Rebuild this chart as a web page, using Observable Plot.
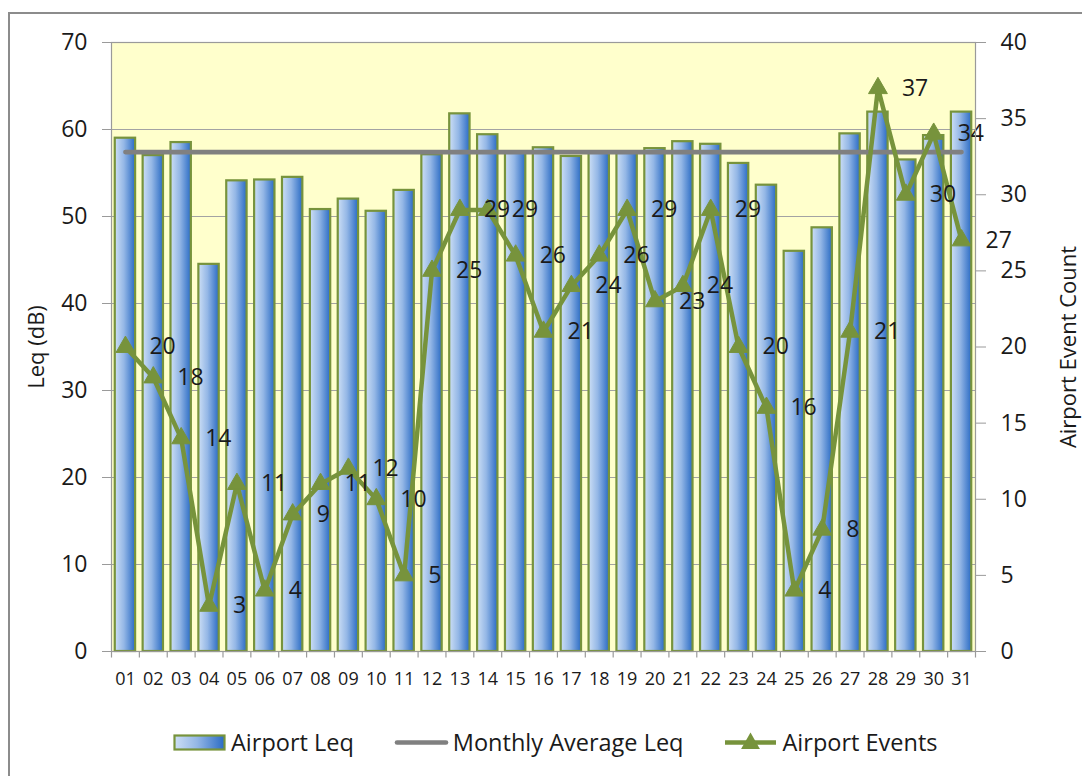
<!DOCTYPE html>
<html><head><meta charset="utf-8">
<script src="https://cdn.jsdelivr.net/npm/d3@7"></script>
<script src="https://cdn.jsdelivr.net/npm/@observablehq/plot@0.6"></script>
<style>
body{margin:0;background:#fff;font-family:"Open Sans",sans-serif;}
#wrap{position:relative;width:1082px;height:776px;overflow:hidden;background:#fff;}
#frame{position:absolute;left:8px;top:12px;width:1200px;height:900px;border:2px solid #8c8c8c;box-sizing:border-box;}
#chart{position:absolute;left:0;top:0;}
#legend{position:absolute;top:728px;left:173px;display:flex;justify-content:flex-start;align-items:center;gap:41px;font-size:23.5px;color:#1a1a1a;line-height:28px;white-space:nowrap;}
.item{display:flex;align-items:center;gap:5px;}
.item svg{display:block;}
</style></head>
<body><div id="wrap"><div id="frame"></div><div id="chart"></div><div id="legend"></div></div>
<script>
// ---- data ----
const days = ["01","02","03","04","05","06","07","08","09","10","11","12","13","14","15","16","17","18","19","20","21","22","23","24","25","26","27","28","29","30","31"];
const airportLeq = [59.0,57.0,58.5,44.5,54.1,54.2,54.5,50.8,52.0,50.6,53.0,57.1,61.8,59.4,57.4,57.9,56.9,57.4,57.4,57.8,58.6,58.3,56.1,53.6,46.0,48.7,59.5,62.0,56.5,59.3,62.0];
const airportEvents = [20,18,14,3,11,4,9,11,12,10,5,25,29,29,26,21,24,26,29,23,24,29,20,16,4,8,21,37,30,34,27];
const monthlyAverageLeq = 57.4;
const leftTicks = [0,10,20,30,40,50,60,70];
const rightTicks = [0,5,10,15,20,25,30,35,40];
const seriesNames = ["Airport Leq","Monthly Average Leq","Airport Events"];
const axisTitles = {left:"Leq (dB)", right:"Airport Event Count"};

// ---- layout / style ----
const W = 1082, H = 700, mL = 111, mR = 107, mT = 42, mB = 49;
const k = leftTicks[leftTicks.length-1] / rightTicks[rightTicks.length-1];
const step = (W - mL - mR) / days.length;
const green = "#77933C";
const txt = "#1a1a1a";
const axisGray = "#9a9a9a";

const data = days.map((d,i)=>({day:d, leq:airportLeq[i], events:airportEvents[i], avg:monthlyAverageLeq}));

const chart = Plot.plot({
  width: W, height: H, marginLeft: mL, marginRight: mR, marginTop: mT, marginBottom: mB,
  style: {fontFamily:"'Open Sans', sans-serif", fontSize:"23px", color: txt, background:"transparent", overflow:"visible"},
  x: {type:"band", domain: days, paddingInner: 0.27, paddingOuter: 0.135, round: false},
  y: {domain:[0,70]},
  marks: [
    Plot.frame({fill:"#ffffcc", stroke:null}),
    Plot.ruleY(leftTicks.slice(1,-1), {stroke:"#a3a3a3", strokeWidth:1.2}),
    Plot.barY(data, {x:"day", y:"leq", fill:"url(#barGrad)", stroke:green, strokeWidth:2.2}),
    Plot.lineY(data, {x:"day", y:"avg", stroke:"#808080", strokeWidth:4.6, strokeLinecap:"round"}),
    Plot.lineY(data, {x:"day", y:d=>d.events*k, stroke:green, strokeWidth:4.5, strokeLinejoin:"round"}),
    Plot.dot(data, {x:"day", y:d=>d.events*k, symbol:"triangle", r:7, fill:green, stroke:green, strokeWidth:1}),
    Plot.text(data, {x:"day", y:d=>d.events*k, text:d=>String(d.events), dx:24, textAnchor:"start", fontSize:23, fill:txt}),
    Plot.frame({stroke:axisGray, strokeWidth:1.2}),
    Plot.ruleX(days, {x:d=>d, y1:0, y2:-0.75, dx:-step/2, stroke:axisGray, strokeWidth:1.2}),
    Plot.ruleX(days.slice(-1), {x:d=>d, y1:0, y2:-0.75, dx:step/2, stroke:axisGray, strokeWidth:1.2}),
    Plot.axisY(leftTicks, {anchor:"left", tickSize:9, tickPadding:15, fontSize:23, stroke:axisGray, fill:txt, label:null}),
    Plot.axisY(rightTicks.map(v=>v*k), {anchor:"right", tickSize:10, tickPadding:15, fontSize:23, stroke:axisGray, fill:txt, tickFormat:v=>String(Math.round(v/k)), label:null}),
    Plot.axisX(days, {tickSize:0, tickPadding:21, fontSize:18, fill:txt, label:null}),
    Plot.text([axisTitles.left], {frameAnchor:"left", dx:-75, rotate:-90, fontSize:22, fill:txt, textAnchor:"middle"}),
    Plot.text([axisTitles.right], {frameAnchor:"right", dx:93, rotate:-90, fontSize:22, fill:txt, textAnchor:"middle"})
  ]
});

const gradDefs = `<linearGradient id="barGrad" x1="0" y1="0" x2="1" y2="0">
  <stop offset="0" stop-color="#cddff5"/>
  <stop offset="0.45" stop-color="#94b7e6"/>
  <stop offset="1" stop-color="#2a6bc4"/>
</linearGradient>`;
d3.select(chart).insert("defs", ":first-child").html(gradDefs);
document.getElementById("chart").appendChild(chart);

// ---- legend ----
const legend = d3.select("#legend");
const swatches = [
  svg => { svg.append("rect").attr("x",1.5).attr("y",1.5).attr("width",50).attr("height",14).attr("fill","url(#barGrad)").attr("stroke",green).attr("stroke-width",2.2); },
  svg => { svg.append("line").attr("x1",2).attr("x2",51).attr("y1",8.5).attr("y2",8.5).attr("stroke","#808080").attr("stroke-width",4.6).attr("stroke-linecap","round"); },
  svg => { svg.append("line").attr("x1",1).attr("x2",52).attr("y1",8.5).attr("y2",8.5).attr("stroke",green).attr("stroke-width",4.5);
           svg.append("path").attr("transform","translate(26.5,9.5)").attr("d", d3.symbol(d3.symbolTriangle, Math.PI*49)()).attr("fill",green); }
];
seriesNames.forEach((name,i)=>{
  const it = legend.append("div").attr("class","item");
  const svg = it.append("svg").attr("width",53).attr("height",17).style("overflow","visible");
  swatches[i](svg);
  it.append("span").text(name);
});
</script>
</body></html>
